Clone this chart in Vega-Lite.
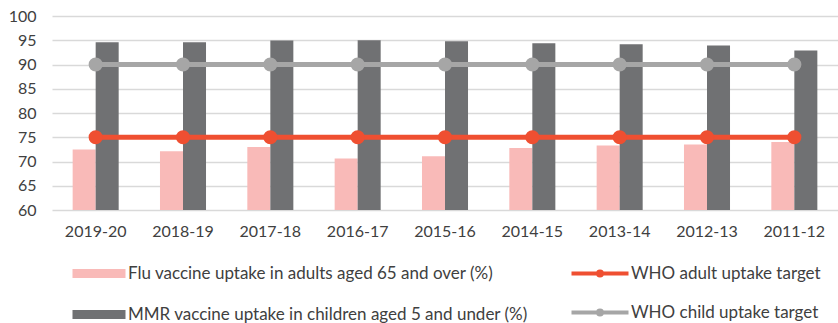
{
  "$schema": "https://vega.github.io/schema/vega-lite/v6.json",
  "autosize": "none",
  "padding": {"left": 52, "top": 16, "right": 0, "bottom": 113},
  "width": 786,
  "height": 194,
  "config": {
    "font": "Lato",
    "view": {"stroke": null},
    "axis": {"labelFont": "Lato", "labelFontSize": 16, "labelColor": "#404040"},
    "legend": {"labelFont": "Lato", "labelFontSize": 17, "labelColor": "#404040", "labelLimit": 600}
  },
  "datasets": {
    "bars": [
      {"year": "2019-20", "series": "Flu vaccine uptake in adults aged 65 and over (%)", "value": 72.5},
      {"year": "2018-19", "series": "Flu vaccine uptake in adults aged 65 and over (%)", "value": 72.1},
      {"year": "2017-18", "series": "Flu vaccine uptake in adults aged 65 and over (%)", "value": 73.0},
      {"year": "2016-17", "series": "Flu vaccine uptake in adults aged 65 and over (%)", "value": 70.6},
      {"year": "2015-16", "series": "Flu vaccine uptake in adults aged 65 and over (%)", "value": 71.1},
      {"year": "2014-15", "series": "Flu vaccine uptake in adults aged 65 and over (%)", "value": 72.8},
      {"year": "2013-14", "series": "Flu vaccine uptake in adults aged 65 and over (%)", "value": 73.3},
      {"year": "2012-13", "series": "Flu vaccine uptake in adults aged 65 and over (%)", "value": 73.5},
      {"year": "2011-12", "series": "Flu vaccine uptake in adults aged 65 and over (%)", "value": 74.0},
      {"year": "2019-20", "series": "MMR vaccine uptake in children aged 5 and under (%)", "value": 94.6},
      {"year": "2018-19", "series": "MMR vaccine uptake in children aged 5 and under (%)", "value": 94.6},
      {"year": "2017-18", "series": "MMR vaccine uptake in children aged 5 and under (%)", "value": 94.95},
      {"year": "2016-17", "series": "MMR vaccine uptake in children aged 5 and under (%)", "value": 95.0},
      {"year": "2015-16", "series": "MMR vaccine uptake in children aged 5 and under (%)", "value": 94.8},
      {"year": "2014-15", "series": "MMR vaccine uptake in children aged 5 and under (%)", "value": 94.4},
      {"year": "2013-14", "series": "MMR vaccine uptake in children aged 5 and under (%)", "value": 94.2},
      {"year": "2012-13", "series": "MMR vaccine uptake in children aged 5 and under (%)", "value": 93.9},
      {"year": "2011-12", "series": "MMR vaccine uptake in children aged 5 and under (%)", "value": 92.9}
    ],
    "targets": [
      {"year": "2019-20", "target": "WHO adult uptake target", "value": 75},
      {"year": "2018-19", "target": "WHO adult uptake target", "value": 75},
      {"year": "2017-18", "target": "WHO adult uptake target", "value": 75},
      {"year": "2016-17", "target": "WHO adult uptake target", "value": 75},
      {"year": "2015-16", "target": "WHO adult uptake target", "value": 75},
      {"year": "2014-15", "target": "WHO adult uptake target", "value": 75},
      {"year": "2013-14", "target": "WHO adult uptake target", "value": 75},
      {"year": "2012-13", "target": "WHO adult uptake target", "value": 75},
      {"year": "2011-12", "target": "WHO adult uptake target", "value": 75},
      {"year": "2019-20", "target": "WHO child uptake target", "value": 90},
      {"year": "2018-19", "target": "WHO child uptake target", "value": 90},
      {"year": "2017-18", "target": "WHO child uptake target", "value": 90},
      {"year": "2016-17", "target": "WHO child uptake target", "value": 90},
      {"year": "2015-16", "target": "WHO child uptake target", "value": 90},
      {"year": "2014-15", "target": "WHO child uptake target", "value": 90},
      {"year": "2013-14", "target": "WHO child uptake target", "value": 90},
      {"year": "2012-13", "target": "WHO child uptake target", "value": 90},
      {"year": "2011-12", "target": "WHO child uptake target", "value": 90}
    ]
  },
  "encoding": {
    "x": {
      "field": "year", "type": "nominal", "sort": null, "title": null,
      "scale": {"paddingInner": 0.473, "paddingOuter": 0.2365},
      "axis": {"labelAngle": 0, "ticks": false, "domain": false, "labelPadding": 13, "grid": false}
    },
    "y": {
      "field": "value", "type": "quantitative", "title": null,
      "scale": {"domain": [60, 100], "zero": false, "nice": false},
      "axis": {"values": [60, 65, 70, 75, 80, 85, 90, 95, 100], "ticks": false, "domain": false, "labelPadding": 16, "grid": true, "gridColor": "#d9d9d9", "gridWidth": 1.5}
    }
  },
  "layer": [
    {
      "data": {"name": "bars"},
      "mark": {"type": "bar", "clip": true},
      "encoding": {
        "xOffset": {"field": "series", "type": "nominal", "scale": {"paddingInner": 0, "paddingOuter": 0}},
        "fill": {
          "field": "series", "type": "nominal", "title": null,
          "scale": {"domain": ["Flu vaccine uptake in adults aged 65 and over (%)", "MMR vaccine uptake in children aged 5 and under (%)"], "range": ["#f9bab8", "#707173"]},
          "legend": {
            "orient": "none", "legendX": 17, "legendY": 249, "direction": "vertical",
            "padding": 0, "symbolOffset": 0, "labelOffset": 42, "rowPadding": 23,
            "symbolType": "M-1,-0.9H9.6V0.9H-1Z", "symbolSize": 100, "symbolStrokeWidth": 0
          }
        }
      }
    },
    {
      "data": {"name": "targets"},
      "mark": {"type": "line", "strokeWidth": 5, "point": {"filled": true, "size": 200}},
      "encoding": {
        "color": {
          "field": "target", "type": "nominal", "title": null,
          "scale": {"domain": ["WHO adult uptake target", "WHO child uptake target"], "range": ["#ef4f31", "#a6a6a6"]},
          "legend": {
            "orient": "none", "legendX": 516, "legendY": 249, "direction": "vertical",
            "padding": 0, "symbolOffset": 0, "labelOffset": 46, "rowPadding": 18,
            "symbolType": "M-1,0H10.4M4.3,0A0.4,0.4 0 1,0 5.1,0A0.4,0.4 0 1,0 4.3,0",
            "symbolSize": 100, "symbolStrokeWidth": 4
          }
        }
      }
    }
  ]
}
